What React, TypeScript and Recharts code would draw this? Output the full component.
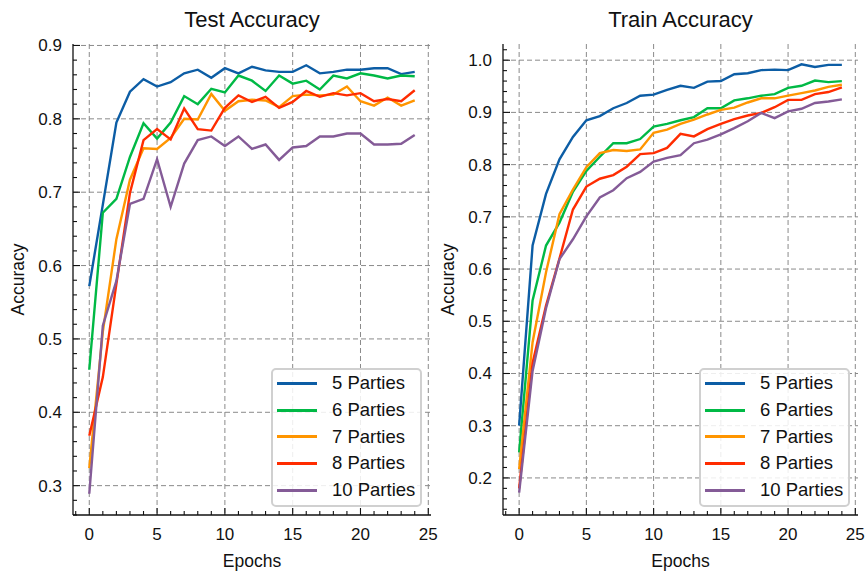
import { CartesianGrid, Label, Legend, Line, LineChart, XAxis, YAxis } from 'recharts'

const EPOCHS = [0, 1, 2, 3, 4, 5, 6, 7, 8, 9, 10, 11, 12, 13, 14, 15, 16, 17, 18, 19, 20, 21, 22, 23, 24]
const SERIES = ['5 Parties', '6 Parties', '7 Parties', '8 Parties', '10 Parties']
const COLORS = ['#0C5DA5', '#00B945', '#FF9500', '#FF2C00', '#845B97']

const TEST_5 = [0.572, 0.683, 0.795, 0.837, 0.854, 0.844, 0.85, 0.862, 0.867, 0.856, 0.869, 0.862, 0.871, 0.866, 0.864, 0.864, 0.873, 0.862, 0.864, 0.867, 0.867, 0.869, 0.869, 0.861, 0.864]
const TEST_6 = [0.458, 0.672, 0.691, 0.748, 0.794, 0.773, 0.795, 0.831, 0.82, 0.841, 0.836, 0.859, 0.852, 0.838, 0.859, 0.848, 0.852, 0.84, 0.859, 0.855, 0.862, 0.859, 0.855, 0.859, 0.858]
const TEST_7 = [0.324, 0.51, 0.636, 0.717, 0.76, 0.759, 0.774, 0.8, 0.799, 0.834, 0.811, 0.824, 0.826, 0.825, 0.816, 0.831, 0.833, 0.832, 0.833, 0.844, 0.824, 0.818, 0.829, 0.818, 0.825]
const TEST_8 = [0.368, 0.448, 0.575, 0.699, 0.771, 0.786, 0.772, 0.814, 0.786, 0.784, 0.815, 0.832, 0.823, 0.83, 0.815, 0.823, 0.838, 0.83, 0.835, 0.832, 0.835, 0.824, 0.827, 0.824, 0.839]
const TEST_10 = [0.289, 0.518, 0.579, 0.684, 0.691, 0.745, 0.68, 0.739, 0.771, 0.776, 0.763, 0.776, 0.759, 0.765, 0.744, 0.761, 0.763, 0.776, 0.776, 0.78, 0.78, 0.765, 0.765, 0.766, 0.778]

const TRAIN_5 = [0.3, 0.645, 0.744, 0.81, 0.853, 0.885, 0.893, 0.908, 0.918, 0.932, 0.934, 0.943, 0.951, 0.947, 0.959, 0.96, 0.973, 0.975, 0.981, 0.982, 0.981, 0.992, 0.987, 0.991, 0.991]
const TRAIN_6 = [0.249, 0.54, 0.645, 0.689, 0.748, 0.788, 0.815, 0.841, 0.841, 0.849, 0.873, 0.878, 0.885, 0.891, 0.908, 0.908, 0.923, 0.927, 0.932, 0.935, 0.947, 0.951, 0.961, 0.958, 0.96]
const TRAIN_7 = [0.217, 0.46, 0.594, 0.705, 0.752, 0.795, 0.822, 0.828, 0.826, 0.829, 0.861, 0.867, 0.878, 0.886, 0.896, 0.905, 0.909, 0.919, 0.927, 0.927, 0.932, 0.937, 0.942, 0.949, 0.953]
const TRAIN_8 = [0.18, 0.42, 0.53, 0.62, 0.714, 0.758, 0.773, 0.78, 0.796, 0.82, 0.822, 0.832, 0.859, 0.854, 0.868, 0.878, 0.887, 0.894, 0.899, 0.91, 0.924, 0.924, 0.935, 0.939, 0.948]
const TRAIN_10 = [0.172, 0.405, 0.525, 0.619, 0.657, 0.701, 0.737, 0.751, 0.774, 0.786, 0.806, 0.813, 0.818, 0.841, 0.848, 0.858, 0.87, 0.883, 0.899, 0.889, 0.902, 0.907, 0.918, 0.921, 0.925]

const X_MAJOR = [0, 5, 10, 15, 20, 25]
const TEST_Y_MAJOR = [0.3, 0.4, 0.5, 0.6, 0.7, 0.8, 0.9]
const TRAIN_Y_MAJOR = [0.2, 0.3, 0.4, 0.5, 0.6, 0.7, 0.8, 0.9, 1.0]

const X_DOMAIN: [number, number] = [-1.2, 25.2]
const TEST_Y_DOMAIN: [number, number] = [0.26, 0.902]
const TRAIN_Y_DOMAIN: [number, number] = [0.129, 1.031]

// minor tick helper (majors are a subset)
const steps = (from: number, to: number, step: number) => {
  const out: number[] = []
  for (let v = from; v <= to + 1e-9; v += step) out.push(Math.round(v * 100) / 100)
  return out
}
const X_TICKS = steps(-1, 25, 1)
const TEST_Y_TICKS = steps(0.26, 0.9, 0.02)
const TRAIN_Y_TICKS = steps(0.14, 1.02, 0.02)

const FONT = '"Liberation Sans", Arial, sans-serif'
const INK = '#111'

const rows = (cols: number[][]) =>
  EPOCHS.map((epoch, i) => {
    const row: Record<string, number> = { epoch }
    SERIES.forEach((name, k) => (row[name] = cols[k][i]))
    return row
  })

const testData = rows([TEST_5, TEST_6, TEST_7, TEST_8, TEST_10])
const trainData = rows([TRAIN_5, TRAIN_6, TRAIN_7, TRAIN_8, TRAIN_10])

const isMajor = (majors: number[], v: number) => majors.some((m) => Math.abs(m - v) < 1e-6)

function makeTick(side: 'bottom' | 'top' | 'left' | 'right', majors: number[], fmt?: (v: number) => string) {
  return (props: any) => {
    const { x, y, payload } = props
    const v = payload.value
    const major = isMajor(majors, v)
    const len = major ? 7 : 4
    let line
    if (side === 'bottom') line = <line x1={x} y1={y} x2={x} y2={y - len} />
    else if (side === 'top') line = <line x1={x} y1={y} x2={x} y2={y + len} />
    else if (side === 'left') line = <line x1={x} y1={y} x2={x + len} y2={y} />
    else line = <line x1={x} y1={y} x2={x - len} y2={y} />
    return (
      <g>
        <g stroke={INK} strokeWidth={1.1}>{line}</g>
        {major && fmt && side === 'bottom' && (
          <text x={x} y={y + 25} textAnchor="middle" fontSize={17} fontFamily={FONT} fill={INK}>
            {fmt(v)}
          </text>
        )}
        {major && fmt && side === 'left' && (
          <text x={x - 11} y={y + 6} textAnchor="end" fontSize={17} fontFamily={FONT} fill={INK}>
            {fmt(v)}
          </text>
        )}
      </g>
    )
  }
}

const renderLegend = (props: any) => {
  const items = [...(props.payload || [])].sort((a: any, b: any) => SERIES.indexOf(a.value) - SERIES.indexOf(b.value))
  return (
    <div
      style={{
        boxSizing: 'border-box',
        width: 151,
        height: 139,
        border: '2px solid #d0d0d0',
        borderRadius: 5,
        background: 'rgba(255,255,255,0.85)',
        fontFamily: FONT,
        fontSize: 18.5,
        color: INK,
      }}
    >
      {items.map((entry: any) => (
        <div key={entry.value} style={{ display: 'flex', alignItems: 'center', height: 26.7 }}>
          <span style={{ display: 'inline-block', width: 40, height: 3, marginLeft: 4, background: entry.color }} />
          <span style={{ marginLeft: 15, lineHeight: '18px' }}>{entry.value}</span>
        </div>
      ))}
    </div>
  )
}

type PanelProps = {
  title: string
  data: Record<string, number>[]
  yDomain: [number, number]
  yTicks: number[]
  yMajor: number[]
  left: number
  width: number
  marginRight: number
  legendLeft: number
}

function Panel({ title, data, yDomain, yTicks, yMajor, left, width, marginRight, legendLeft }: PanelProps) {
  const axisLine = { stroke: INK, strokeWidth: 1.3 }
  return (
    <div style={{ position: 'absolute', left, top: 0 }}>
      <LineChart width={width} height={572} data={data} margin={{ top: 44, right: marginRight, bottom: 17, left: 0 }}>
        <CartesianGrid
          xAxisId="b"
          yAxisId="l"
          verticalValues={X_MAJOR}
          horizontalValues={yMajor}
          stroke="#8a8a8a"
          strokeWidth={1}
          strokeDasharray="5 3"
        />
        <XAxis
          xAxisId="b"
          dataKey="epoch"
          type="number"
          domain={X_DOMAIN}
          allowDataOverflow
          ticks={X_TICKS}
          interval={0}
          height={40}
          tickSize={0}
          tickMargin={0}
          tickLine={false}
          axisLine={axisLine}
          tick={makeTick('bottom', X_MAJOR, (v) => String(v))}
        >
          <Label
            content={(p: any) => {
              const vb = p.viewBox
              const cx = vb.x + vb.width / 2
              return (
                <g>
                  <text x={cx} y={vb.y + 52} textAnchor="middle" fontSize={17.5} fontFamily={FONT} fill={INK}>
                    Epochs
                  </text>
                  <text x={cx} y={27} textAnchor="middle" fontSize={22} fontFamily={FONT} fill={INK}>
                    {title}
                  </text>
                </g>
              )
            }}
          />
        </XAxis>
        <XAxis
          xAxisId="t"
          orientation="top"
          type="number"
          domain={X_DOMAIN}
          allowDataOverflow
          ticks={X_TICKS}
          interval={0}
          height={0}
          tickSize={0}
          tickMargin={0}
          tickLine={false}
          axisLine={axisLine}
          tick={makeTick('top', X_MAJOR)}
        />
        <YAxis
          yAxisId="l"
          type="number"
          domain={yDomain}
          allowDataOverflow
          ticks={yTicks}
          interval={0}
          width={73}
          tickSize={0}
          tickMargin={0}
          tickLine={false}
          axisLine={axisLine}
          tick={makeTick('left', yMajor, (v) => v.toFixed(1))}
        >
          <Label
            content={(p: any) => {
              const vb = p.viewBox
              const cx = vb.x + vb.width - 49
              const cy = vb.y + vb.height / 2
              return (
                <text x={cx} y={cy} transform={`rotate(-90, ${cx}, ${cy})`} textAnchor="middle" fontSize={17.5} fontFamily={FONT} fill={INK}>
                  Accuracy
                </text>
              )
            }}
          />
        </YAxis>
        <YAxis
          yAxisId="r"
          orientation="right"
          type="number"
          domain={yDomain}
          allowDataOverflow
          ticks={yTicks}
          interval={0}
          width={0}
          tickSize={0}
          tickMargin={0}
          tickLine={false}
          axisLine={axisLine}
          tick={makeTick('right', yMajor)}
        />
        {SERIES.map((name, k) => (
          <Line
            key={name}
            xAxisId="b"
            yAxisId="l"
            type="linear"
            dataKey={name}
            name={name}
            stroke={COLORS[k]}
            strokeWidth={2.4}
            dot={false}
            isAnimationActive={false}
          />
        ))}
        <Legend
          layout="vertical"
          align="center"
          verticalAlign="middle"
          content={renderLegend}
          wrapperStyle={{ left: legendLeft, top: 368, width: 151, height: 139 }}
        />
      </LineChart>
    </div>
  )
}

export default function App() {
  return (
    <div style={{ position: 'absolute', left: 0, top: 0, width: 866, height: 572, background: '#fff' }}>
      <Panel
        title="Test Accuracy"
        data={testData}
        yDomain={TEST_Y_DOMAIN}
        yTicks={TEST_Y_TICKS}
        yMajor={TEST_Y_MAJOR}
        left={0}
        width={450}
        marginRight={19}
        legendLeft={271}
      />
      <Panel
        title="Train Accuracy"
        data={trainData}
        yDomain={TRAIN_Y_DOMAIN}
        yTicks={TRAIN_Y_TICKS}
        yMajor={TRAIN_Y_MAJOR}
        left={430}
        width={436}
        marginRight={8}
        legendLeft={269}
      />
    </div>
  )
}
